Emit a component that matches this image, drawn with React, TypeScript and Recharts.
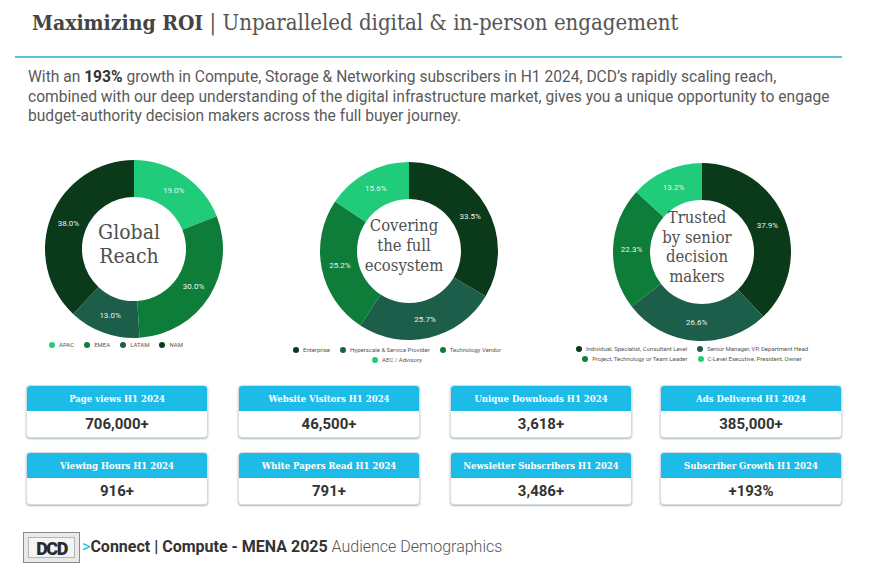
import { PieChart, Pie, Cell, Legend } from "recharts";

const regionNames = ["APAC", "EMEA", "LATAM", "NAM"];
const regionShare = [19.0, 30.0, 13.0, 38.0];

const sectorNames = [
  "Enterprise",
  "Hyperscale & Service Provider",
  "Technology Vendor",
  "AEC / Advisory",
];
const sectorShare = [33.5, 25.7, 25.2, 15.6];

const seniorityNames = [
  "Individual, Specialist, Consultant Level",
  "Senior Manager, VP, Department Head",
  "Project, Technology or Team Leader",
  "C-Level Executive, President, Owner",
];
const seniorityShare = [37.9, 26.6, 22.3, 13.2];

const statLabels = [
  "Page views H1 2024",
  "Website Visitors H1 2024",
  "Unique Downloads H1 2024",
  "Ads Delivered H1 2024",
  "Viewing Hours H1 2024",
  "White Papers Read H1 2024",
  "Newsletter Subscribers H1 2024",
  "Subscriber Growth H1 2024",
];
const statValues = [
  "706,000+",
  "46,500+",
  "3,618+",
  "385,000+",
  "916+",
  "791+",
  "3,486+",
  "+193%",
];

const LIGHT = "#20cc7a";
const MID = "#0e7d3a";
const TEAL = "#1c5e4a";
const DARK = "#0b3a1b";

const SERIF = "'DejaVu Serif Condensed', 'DejaVu Serif', serif";
const SANS = "Roboto, 'Noto Sans', sans-serif";

const RADIAN = Math.PI / 180;

function sliceLabel(props: any) {
  const { cx, cy, midAngle, innerRadius, outerRadius, value } = props;
  const r = (innerRadius + outerRadius) / 2;
  const x = cx + r * Math.cos(-midAngle * RADIAN);
  const y = cy + r * Math.sin(-midAngle * RADIAN);
  return (
    <text
      x={x}
      y={y}
      fill="#e8f5ec"
      fontSize={8}
      fontFamily={SANS}
      textAnchor="middle"
      dominantBaseline="central"
    >
      {Number(value).toFixed(1)}%
    </text>
  );
}

function Donut({
  names,
  values,
  colors,
  left,
  width,
  cy,
  centerText,
  fontSize,
  lineHeight,
  legendLeft,
  legendTop,
  legendWidth,
}: {
  names: string[];
  values: number[];
  colors: string[];
  left: number;
  width: number;
  cy: number;
  centerText: string[];
  fontSize: number;
  lineHeight: number;
  legendLeft: number;
  legendTop: number;
  legendWidth: number;
}) {
  const data = names.map((n, i) => ({ name: n, value: values[i] }));
  const top = 120;
  return (
    <div style={{ position: "absolute", left, top, width, height: 250 }}>
      <PieChart width={width} height={250}>
        <Pie
          data={data}
          dataKey="value"
          nameKey="name"
          cx={width / 2}
          cy={cy - top}
          innerRadius={52}
          outerRadius={89}
          startAngle={90}
          endAngle={-270}
          stroke="none"
          label={sliceLabel}
          labelLine={false}
          isAnimationActive={false}
        >
          {data.map((d, i) => (
            <Cell key={d.name} fill={colors[i]} />
          ))}
        </Pie>
        <Legend
          iconType="circle"
          iconSize={6}
          itemSorter={null as any}
          formatter={(v: string) => <span style={{ color: "#555" }}>{v}</span>}
          wrapperStyle={{
            left: legendLeft,
            top: legendTop,
            width: legendWidth,
            fontSize: 6,
            lineHeight: "10px",
            fontFamily: SANS,
          }}
        />
      </PieChart>
      <div
        style={{
          position: "absolute",
          left: 0,
          width,
          top: cy - top - (centerText.length * lineHeight) / 2,
          textAlign: "center",
          fontFamily: SERIF,
          fontSize,
          lineHeight: `${lineHeight}px`,
          color: "#505050",
          pointerEvents: "none",
        }}
      >
        {centerText.map((t) => (
          <div key={t}>{t}</div>
        ))}
      </div>
    </div>
  );
}

function StatCard({ label, value, x, y }: { label: string; value: string; x: number; y: number }) {
  return (
    <div
      style={{
        position: "absolute",
        left: x,
        top: y,
        width: 182,
        height: 53,
        borderRadius: 4,
        overflow: "hidden",
        background: "#fff",
        border: "1px solid #d6dde0",
        boxShadow: "0 1px 2px rgba(60,100,120,0.45)",
        boxSizing: "border-box",
      }}
    >
      <div
        style={{
          height: 25,
          background: "#1dbbe8",
          color: "#fff",
          fontFamily: SERIF,
          fontWeight: 700,
          fontSize: 9.5,
          lineHeight: "25px",
          textAlign: "center",
        }}
      >
        {label}
      </div>
      <div
        style={{
          height: 27,
          color: "#333",
          fontFamily: SANS,
          fontWeight: 700,
          fontSize: 15,
          lineHeight: "27px",
          textAlign: "center",
        }}
      >
        {value}
      </div>
    </div>
  );
}

export default function App() {
  const colX = [26, 238, 450, 660];
  const rowY = [385, 452];
  return (
    <div
      style={{
        position: "absolute",
        left: 0,
        top: 0,
        width: 880,
        height: 586,
        background: "#fff",
        overflow: "hidden",
      }}
    >
      <div
        style={{
          position: "absolute",
          left: 32,
          top: 10,
          fontFamily: SERIF,
          fontSize: 21,
          color: "#444",
          whiteSpace: "nowrap",
        }}
      >
        <span style={{ fontWeight: 700 }}>Maximizing ROI</span>
        <span style={{ color: "#555", fontSize: 22 }}> | Unparalleled digital &amp; in-person engagement</span>
      </div>
      <div
        style={{
          position: "absolute",
          left: 15,
          top: 56,
          width: 827,
          height: 2,
          background: "#5cbfd9",
        }}
      />
      <div
        style={{
          position: "absolute",
          left: 28,
          top: 68,
          fontFamily: SANS,
          fontSize: 15.6,
          lineHeight: "19.5px",
          color: "#5a5a5a",
          whiteSpace: "nowrap",
        }}
      >
        With an <b style={{ color: "#333" }}>193%</b> growth in Compute, Storage &amp; Networking
        subscribers in H1 2024, DCD’s rapidly scaling reach,
        <br />
        combined with our deep understanding of the digital infrastructure market, gives you a unique
        opportunity to engage
        <br />
        budget-authority decision makers across the full buyer journey.
      </div>

      <Donut
        names={regionNames}
        values={regionShare}
        colors={[LIGHT, MID, TEAL, DARK]}
        left={4}
        width={250}
        cy={244}
        centerText={["Global", "Reach"]}
        fontSize={21}
        lineHeight={24}
        legendLeft={-8}
        legendTop={220}
        legendWidth={250}
      />
      <Donut
        names={sectorNames}
        values={sectorShare}
        colors={[DARK, TEAL, MID, LIGHT]}
        left={254}
        width={300}
        cy={246}
        centerText={["Covering", "the full", "ecosystem"]}
        fontSize={16.5}
        lineHeight={20}
        legendLeft={17}
        legendTop={225}
        legendWidth={262}
      />
      <Donut
        names={seniorityNames}
        values={seniorityShare}
        colors={[DARK, TEAL, MID, LIGHT]}
        left={547}
        width={300}
        cy={247}
        centerText={["Trusted", "by senior", "decision", "makers"]}
        fontSize={16.5}
        lineHeight={19.5}
        legendLeft={14}
        legendTop={224}
        legendWidth={272}
      />

      {statLabels.map((label, i) => (
        <StatCard
          key={label}
          label={label}
          value={statValues[i]}
          x={colX[i % 4]}
          y={rowY[Math.floor(i / 4)]}
        />
      ))}

      <div
        style={{
          position: "absolute",
          left: 23,
          top: 532,
          width: 57,
          height: 31,
          boxSizing: "border-box",
          border: "1px solid #8a8a8a",
          background: "#e9e9e9",
        }}
      >
        <div
          style={{
            position: "absolute",
            left: 4,
            top: 4,
            right: 4,
            bottom: 4,
            border: "1px solid #b5b5b5",
            background: "#f4f4f4",
            fontFamily: SANS,
            fontWeight: 900,
            fontSize: 18,
            lineHeight: "21px",
            letterSpacing: -1.5,
            textAlign: "center",
            color: "#2a2a2a",
          }}
        >
          DCD
        </div>
      </div>
      <div
        style={{
          position: "absolute",
          left: 82,
          top: 537,
          fontFamily: SANS,
          fontSize: 16,
          whiteSpace: "nowrap",
          color: "#333",
        }}
      >
        <span style={{ color: "#1dbbe8" }}>&gt;</span>
        <span style={{ fontWeight: 700 }}>Connect | Compute - MENA 2025</span>
        <span style={{ fontWeight: 300, color: "#555" }}> Audience Demographics</span>
      </div>
    </div>
  );
}
